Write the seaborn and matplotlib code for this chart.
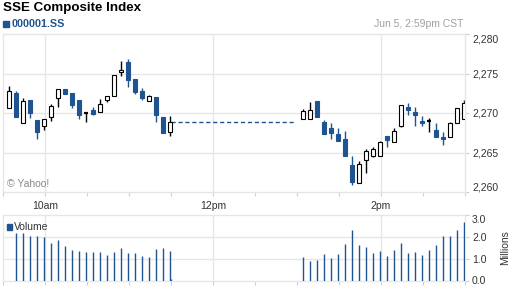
import numpy as np
import pandas as pd
import matplotlib
matplotlib.use("Agg")
import matplotlib.pyplot as plt
import seaborn as sns

# ---------------- data ----------------
title = "SSE Composite Index"
symbol = "000001.SS"
stamp = "Jun 5, 2:59pm CST"

am_open  = [2270.6, 2272.5, 2268.7, 2271.6, 2269.1, 2268.4, 2269.5, 2271.9, 2273.0, 2272.5, 2271.6, 2270.0,
            2270.4, 2270.1, 2271.7, 2272.2, 2275.15, 2276.4, 2274.3, 2272.8, 2271.5, 2272.0, 2269.5, 2267.6]
am_high  = [2273.4, 2272.8, 2271.9, 2271.6, 2269.1, 2269.2, 2271.1, 2273.0, 2273.0, 2272.5, 2271.6, 2270.0,
            2270.8, 2271.8, 2272.1, 2274.8, 2276.6, 2276.8, 2274.3, 2273.2, 2272.3, 2272.0, 2269.5, 2269.6]
am_low   = [2270.6, 2269.5, 2268.7, 2269.4, 2266.7, 2267.8, 2269.0, 2270.8, 2272.4, 2270.6, 2269.2, 2268.8,
            2269.7, 2270.1, 2271.4, 2272.2, 2274.7, 2273.3, 2272.4, 2271.6, 2271.5, 2268.9, 2267.5, 2267.1]
am_close = [2272.8, 2269.5, 2271.5, 2270.0, 2267.6, 2269.2, 2270.9, 2273.0, 2272.4, 2271.0, 2269.7, 2270.0,
            2269.9, 2271.2, 2272.1, 2274.8, 2275.4, 2274.2, 2272.6, 2271.9, 2272.1, 2269.8, 2267.5, 2268.9]

pm_open  = [2269.3, 2269.2, 2271.5, 2268.8, 2268.1, 2267.3, 2266.7, 2263.4, 2261.1, 2264.0, 2264.5, 2264.5,
            2267.1, 2266.3, 2268.4, 2270.7, 2270.1, 2269.0, 2269.0, 2267.85, 2267.0, 2266.9, 2268.7, 2269.3]
pm_high  = [2270.5, 2271.4, 2271.5, 2269.1, 2268.7, 2268.1, 2267.7, 2264.6, 2263.9, 2265.4, 2265.7, 2266.5,
            2267.1, 2268.1, 2271.0, 2271.3, 2270.7, 2269.6, 2269.4, 2268.7, 2267.6, 2268.9, 2270.6, 2271.6]
pm_low   = [2269.3, 2269.2, 2269.5, 2267.3, 2266.7, 2266.5, 2264.5, 2260.9, 2261.1, 2262.4, 2264.4, 2264.5,
            2265.7, 2266.3, 2268.2, 2269.8, 2268.4, 2268.3, 2267.6, 2267.0, 2265.9, 2266.9, 2268.7, 2269.3]
pm_close = [2270.3, 2270.4, 2269.5, 2267.3, 2267.5, 2266.5, 2264.5, 2261.3, 2263.5, 2265.2, 2265.5, 2266.3,
            2266.6, 2267.7, 2271.0, 2270.4, 2269.7, 2268.7, 2269.0, 2267.0, 2266.75, 2268.7, 2270.6, 2271.3]

# volume in millions (first morning bar not shown)
am_volume = [np.nan, 2.16, 2.16, 2.02, 2.06, 2.00, 1.70, 1.87, 1.59, 1.41, 1.36, 1.32,
             1.30, 1.32, 1.15, 1.32, 1.51, 1.26, 1.24, 1.10, 1.06, 1.45, 1.51, 1.33]
am_close_volume = 0.06   # 11:30 print
pm_volume = [1.06, 0.88, 0.92, 1.20, 1.02, 1.22, 1.68, 2.31, 1.63, 1.52, 1.26, 1.34,
             1.12, 1.38, 1.71, 1.26, 1.29, 1.17, 1.38, 1.63, 2.03, 2.03, 2.31, 2.68]

price_ticks = [2260, 2265, 2270, 2275, 2280]
vol_ticks = [0.0, 1.0, 2.0, 3.0]
time_labels = ["10am", "12pm", "2pm"]

# ---------------- build table ----------------
def minutes(hhmm):
    h, m = map(int, hhmm.split(":"))
    return (h - 9) * 60 + m - 30  # minutes since 9:30

am_start = [f"{9 + (30 + 5*k)//60:02d}:{(30 + 5*k) % 60:02d}" for k in range(len(am_open))]
pm_start = [f"{13 + (5*k)//60:02d}:{(5*k) % 60:02d}" for k in range(len(pm_open))]
OFFSET = 4.2
df = pd.DataFrame({
    "t": [minutes(s) + OFFSET for s in am_start + pm_start],
    "open": am_open + pm_open, "high": am_high + pm_high,
    "low": am_low + pm_low, "close": am_close + pm_close,
    "volume": am_volume + pm_volume,
})
vol_df = pd.concat([df[["t", "volume"]],
                    pd.DataFrame({"t": [minutes("11:30")], "volume": [am_close_volume]})]).dropna()

BLUE = "#1f5490"
GRID = "#e6e6e6"
TXT = "#333333"

sns.set_theme(style="white")
plt.rcParams["font.family"] = ["Liberation Sans", "DejaVu Sans"]

fig = plt.figure(figsize=(5.12, 2.88), dpi=100)
ax = fig.add_axes([3/512, 1 - 192/288, 462/512, 158/288])
ax2 = fig.add_axes([3/512, 1 - 280.5/288, 462/512, 65.5/288])

# ---------------- candles ----------------
W = 2.65
for _, r in df.iterrows():
    up = r.close > r.open
    doji = abs(r.close - r.open) < 1e-9
    col = "black" if (up or doji) else BLUE
    ax.vlines(r.t, r.low, r.high, color=col, lw=1.0, zorder=2)
    if doji:
        ax.hlines(r.close, r.t - W/2 - 0.35, r.t + W/2 + 0.35, color="black", lw=1.6, zorder=3)
    else:
        ax.bar(r.t, abs(r.close - r.open), bottom=min(r.open, r.close), width=W,
               color="white" if up else BLUE, edgecolor=col, linewidth=0.8, zorder=3)

# lunch-break dashed line at last morning close
lunch_x = [minutes("11:30"), minutes("12:58")]
lunch_y = [am_close[-1], am_close[-1]]
sns.lineplot(x=lunch_x, y=lunch_y, ax=ax, color=BLUE, lw=1.0, zorder=2)
ax.lines[-1].set_linestyle((0, (3, 2)))

# ---------------- volume ----------------
ax2.vlines(vol_df.t, 0, vol_df.volume, color=BLUE, lw=1.0, zorder=3)

# ---------------- axes styling ----------------
major_t = [minutes("10:00"), minutes("12:00"), minutes("14:00")]
minor_t = list(range(0, 331, 30))
for a in (ax, ax2):
    a.set_xlim(0, 330)
    a.set_facecolor("white")
    for s in a.spines.values():
        s.set_color(GRID)
        s.set_linewidth(1.0)
    a.set_xticks(major_t)
    a.set_xticks(minor_t, minor=True)
    a.tick_params(axis="x", which="both", direction="out", length=3, width=0.8, color="#d0d0d0",
                  labelsize=7.5, labelcolor=TXT, pad=3.5, bottom=True)
    a.yaxis.tick_right()
    a.tick_params(axis="y", which="both", direction="out", length=3, width=0.8, color="#d0d0d0",
                  labelsize=7.5, labelcolor=TXT, pad=2, right=True, left=False)
    for x in major_t:
        a.axvline(x, color=GRID, lw=1.0, zorder=0)
    a.set_xlabel("")
    a.set_ylabel("")

ax.set_ylim(price_ticks[0], price_ticks[-1])
ax.set_yticks(price_ticks)
ax.set_yticklabels([f"{v:,}" for v in price_ticks])
for v in price_ticks[1:-1]:
    ax.axhline(v, color=GRID, lw=1.0, zorder=0)
ax.set_xticklabels(time_labels)
lbls = ax.get_yticklabels()
lbls[0].set_va("bottom")
lbls[-1].set_va("top")

ax2.set_ylim(vol_ticks[0], vol_ticks[-1])
ax2.set_yticks(vol_ticks)
ax2.set_yticklabels([f"{v:.1f}" for v in vol_ticks])
for v in vol_ticks[1:-1]:
    ax2.axhline(v, color=GRID, lw=1.0, zorder=0)
ax2.set_xticklabels([])
vl = ax2.get_yticklabels()
vl[-1].set_va("top")

# ---------------- texts ----------------
fig.text(3/512, 1 - 8/288, title, fontsize=9.6, fontweight="bold", color="black", va="center", ha="left")
fig.patches.append(plt.Rectangle((3/512, 1 - 27/288), 6/512, 6/288, transform=fig.transFigure,
                                 color=BLUE, figure=fig))
fig.text(12/512, 1 - 24/288, symbol, fontsize=7.8, fontweight="bold", color=BLUE, va="center", ha="left")
fig.text(463/512, 1 - 24/288, stamp, fontsize=7.5, color="#a0a0a0", va="center", ha="right")
fig.text(7/512, 1 - 184/288, "\u00a9 Yahoo!", fontsize=7.5, color="#888888", va="center", ha="left")
fig.patches.append(plt.Rectangle((7/512, 1 - 230/288), 5/512, 6/288, transform=fig.transFigure,
                                 color=BLUE, figure=fig))
fig.text(14/512, 1 - 227/288, "Volume", fontsize=7.5, color=TXT, va="center", ha="left")
fig.text(505/512, 1 - 248/288, "Millions", fontsize=7.5, color=TXT, va="center", ha="center",
         rotation=90)

fig.savefig("out.png", dpi=100)
